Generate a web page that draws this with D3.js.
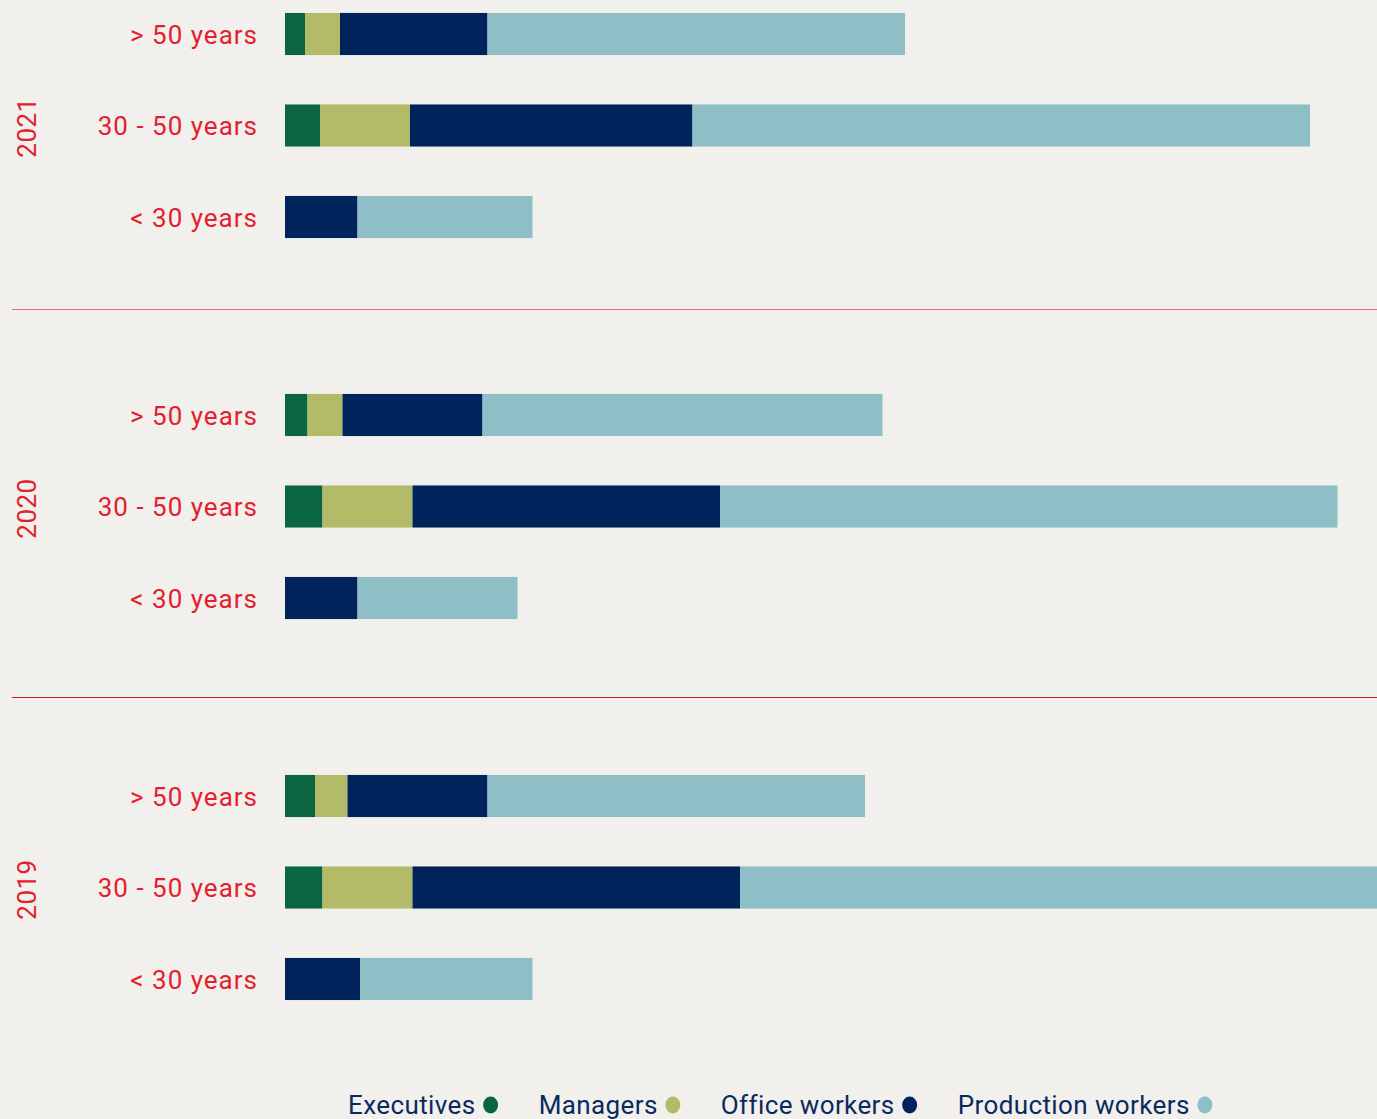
<!DOCTYPE html>
<html lang="en">
<head>
    <meta charset="UTF-8">
    <title>Employees by age</title>
    <script src="https://d3js.org/d3.v7.min.js"></script>
    <style>
        body { margin: 0; background: #f1f0ec; }
        svg { display: block; }
    </style>
</head>
    <body>
        <script>
            const years = ['2021', '2020', '2019']
            const ageGroups = ['> 50 years', '30 - 50 years', '< 30 years']
            const categories = ['Executives', 'Managers', 'Office workers', 'Production workers']

            // one value per row: 2021 (>50, 30-50, <30), 2020 (...), 2019 (...)
            const executives = [8, 14, 0, 9, 15, 0, 12, 15, 0]
            const managers = [14, 36, 0, 14, 36, 0, 13, 36, 0]
            const officeWorkers = [59, 113, 29, 56, 123, 29, 56, 131, 30]
            const productionWorkers = [167, 247, 70, 160, 247, 64, 151, 262, 69]

            const colors = ['#0a6640', '#b3ba68', '#00235b', '#8ebfc7']
            const red = '#e5202e'

            let width = 1377
            let height = 1119

            const rows = []
            years.forEach((y, i) => {
                ageGroups.forEach((a, j) => {
                    const k = i * 3 + j
                    rows.push({
                        year: y, age: a,
                        'Executives': executives[k],
                        'Managers': managers[k],
                        'Office workers': officeWorkers[k],
                        'Production workers': productionWorkers[k]
                    })
                })
            })

            const stacked = d3.stack().keys(categories)(rows)

            xScale = d3.scaleLinear()
            .domain([ 0, 440 ])
            .range([ 285, 1385 ])

            yGroup = d3.scaleBand()
            .domain( years )
            .range([ -65, 1078 ])

            yAge = d3.scaleBand()
            .domain( ageGroups )
            .range([ 0, yGroup.bandwidth() ])
            .paddingInner(0.54)
            .paddingOuter(0.852)

            const rowY = d => yGroup(d.year) + yAge(d.age)

            let svg = d3.select('body').append('svg').attr('width', width).attr('height', height)

            svg.append('rect')
                .attr('width', width).attr('height', height)
                .style('fill', '#f1f0ec')

            // separators between years
            svg.append('g')
                .selectAll('line')
                .data(years.slice(1))
                .join('line')
                .attr('x1', 12)
                .attr('x2', width)
                .attr('y1', (d, i) => yGroup(d) - (i === 0 ? 7 : 0) + 0.5)
                .attr('y2', (d, i) => yGroup(d) - (i === 0 ? 7 : 0) + 0.5)
                .style('stroke', (d, i) => i === 0 ? '#e56a70' : '#c81e28')
                .style('stroke-width', 1.2)

            svg.append('g')
                .attr('class', 'bars')
                .selectAll('g')
                .data(stacked)
                .join('g')
                .style('fill', (d, i) => colors[i])
                .selectAll('rect')
                .data(d => d)
                .join('rect')
                .attr('x', d => xScale(d[0]))
                .attr('y', d => rowY(d.data))
                .attr('width', d => xScale(d[1]) - xScale(d[0]))
                .attr('height', yAge.bandwidth())

            // row labels
            svg.append('g')
                .selectAll('text')
                .data(rows)
                .join('text')
                .attr('x', 258)
                .attr('y', d => rowY(d) + yAge.bandwidth() / 2)
                .attr('dy', '0.37em')
                .attr('text-anchor', 'end')
                .style('font-family', 'Roboto, sans-serif')
                .style('font-size', '26px')
                .style('letter-spacing', '1px')
                .style('fill', red)
                .text(d => d.age)

            // year labels
            svg.append('g')
                .selectAll('text')
                .data(years)
                .join('text')
                .attr('transform', d => `translate(27,${ yGroup(d) + yAge(ageGroups[1]) + yAge.bandwidth() / 2 + 2 }) rotate(-90)`)
                .attr('dy', '0.35em')
                .attr('text-anchor', 'middle')
                .style('font-family', 'Roboto, sans-serif')
                .style('font-size', '26px')
                .style('letter-spacing', '0.5px')
                .style('fill', red)
                .text(d => d)

            // legend
            const legend = svg.append('g').attr('transform', 'translate(348,1114)')
            let lx = 0
            categories.forEach((c, i) => {
                const t = legend.append('text')
                    .attr('x', lx)
                    .style('font-family', 'Roboto, sans-serif')
                    .style('font-size', '26px')
                    .style('letter-spacing', '0.4px')
                    .style('fill', '#0a2a5e')
                    .text(c)
                const w = t.node().getComputedTextLength()
                legend.append('ellipse')
                    .attr('cx', lx + w + 15)
                    .attr('cy', -9)
                    .attr('rx', 7.5)
                    .attr('ry', 8.5)
                    .style('fill', colors[i])
                lx += w + 15 + 48
            })
        </script>
    </body>
</html>
